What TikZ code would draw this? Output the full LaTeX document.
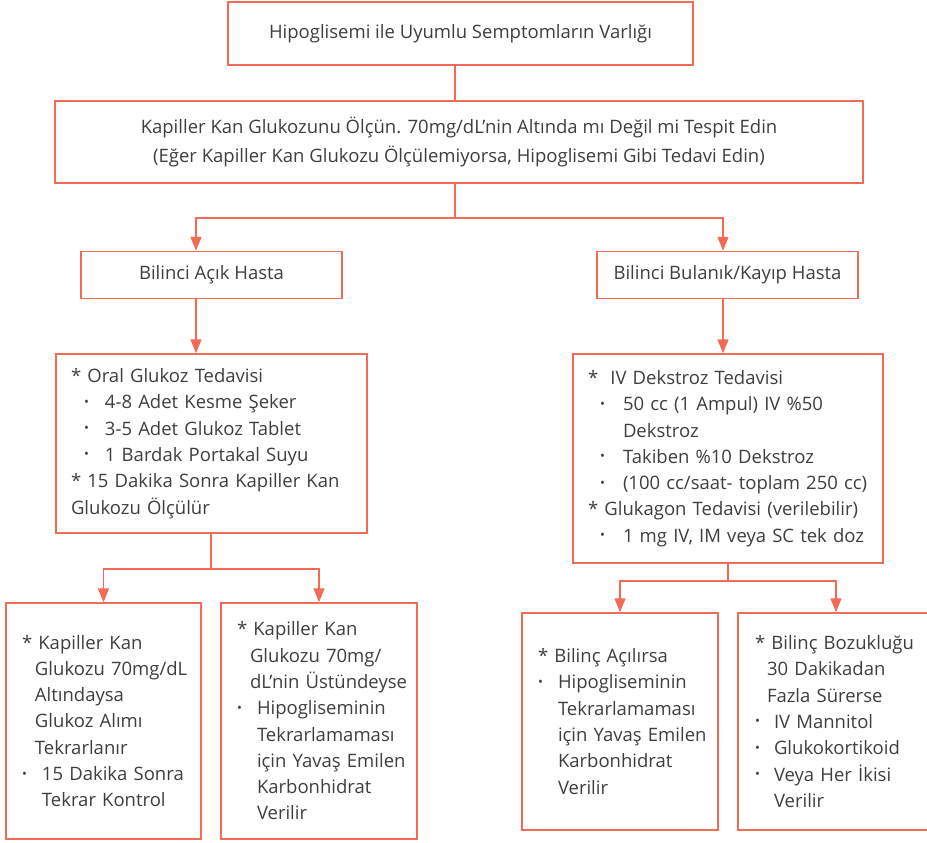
\documentclass[tikz,border=0pt]{standalone}
\usepackage{fontspec}
\setmainfont{Open Sans}
\usetikzlibrary{arrows.meta}

\definecolor{coral}{RGB}{241,107,85}
\definecolor{txtgray}{RGB}{62,62,62}

% bullet with its own indent and width
\newcommand{\blt}[2]{\hspace*{#1}\makebox[#2][l]{\raisebox{2.5pt}{\fontsize{13}{13}\selectfont\textbullet}}}
% left padding of a list box
\newcommand{\lpad}[2]{\leftskip=#1\relax #2\par}

\tikzset{
    box/.style={draw=coral,line width=1.5pt,text=txtgray,
        font=\fontsize{18.5}{26.3}\selectfont,inner ysep=0pt},
    listbox/.style={box,align=left,inner xsep=2pt},
    link/.style={draw=coral,line width=1.5pt},
    arr/.style={link,-{Triangle[length=14pt,width=11pt]}}
}

\begin{document}
\begin{tikzpicture}[x=1pt,y=-1pt]
    \useasboundingbox (0,0) rectangle (927,843);

    % top two boxes
    \node[box,minimum width=465,minimum height=63] (sympt) at (460.5,33.5)
        {Hipoglisemi ile Uyumlu Semptomların Varlığı};
    \node[box,align=center,minimum width=808,minimum height=82] (measure) at (459,142)
        {Kapiller Kan Glukozunu Ölçün. 70mg/dL’nin Altında mı Değil mi Tespit Edin\\[3pt]
         (Eğer Kapiller Kan Glukozu Ölçülemiyorsa, Hipoglisemi Gibi Tedavi Edin)};

    % patient state
    \node[box,minimum width=261,minimum height=47] (open) at (211.5,275) {Bilinci Açık Hasta};
    \node[box,minimum width=261,minimum height=47] (clouded) at (727.5,275) {Bilinci Bulanık/Kayıp Hasta};

    % treatment boxes
    \node[listbox,text width=307pt,minimum height=179] (oral) at (211.5,443.5)
        {\lpad{13pt}{* Oral Glukoz Tedavisi\\
         \blt{13pt}{21pt}4-8 Adet Kesme Şeker\\
         \blt{13pt}{21pt}3-5 Adet Glukoz Tablet\\
         \blt{13pt}{21pt}1 Bardak Portakal Suyu\\{}%
         * 15 Dakika Sonra Kapiller Kan\\
         Glukozu Ölçülür}};
    \node[listbox,text width=306pt,minimum height=209] (iv) at (728,458.5)
        {\lpad{13pt}{*\hspace{6pt} IV Dekstroz Tedavisi\\
         \blt{12pt}{23pt}50 cc (1 Ampul) IV \%50\\
         \hspace*{35pt}Dekstroz\\
         \blt{12pt}{23pt}Takiben \%10 Dekstroz\\
         \blt{12pt}{23pt}(100 cc/saat- toplam 250 cc)\\{}%
         * Glukagon Tedavisi (verilebilir)\\
         \blt{12pt}{23pt}1 mg IV, IM veya SC tek doz}};

    % outcome boxes
    \node[listbox,text width=191pt,minimum height=236] (below) at (103.5,721)
        {\lpad{14pt}{* Kapiller Kan\\
         \hspace*{13pt}Glukozu 70mg/dL\\
         \hspace*{13pt}Altındaysa\\
         \hspace*{13pt}Glukoz Alımı\\
         \hspace*{13pt}Tekrarlanır\\
         \blt{0pt}{20pt}15 Dakika Sonra\\
         \hspace*{20pt}Tekrar Kontrol}};
    \node[listbox,text width=192pt,minimum height=236] (above) at (319,721)
        {\lpad{14pt}{* Kapiller Kan\\
         \hspace*{13pt}Glukozu 70mg/\\
         \hspace*{13pt}dL’nin Üstündeyse\\
         \blt{0pt}{20pt}Hipogliseminin\\
         \hspace*{20pt}Tekrarlamaması\\
         \hspace*{20pt}için Yavaş Emilen\\
         \hspace*{20pt}Karbonhidrat\\
         \hspace*{20pt}Verilir}};
    \node[listbox,text width=192pt,minimum height=217] (wakes) at (620,721.5)
        {\lpad{14pt}{* Bilinç Açılırsa\\
         \blt{0pt}{20pt}Hipogliseminin\\
         \hspace*{20pt}Tekrarlamaması\\
         \hspace*{20pt}için Yavaş Emilen\\
         \hspace*{20pt}Karbonhidrat\\
         \hspace*{20pt}Verilir}};
    \node[listbox,text width=200pt,minimum height=217] (lasts) at (840,721.5)
        {\lpad{15pt}{* Bilinç Bozukluğu\\
         \hspace*{12pt}30 Dakikadan\\
         \hspace*{12pt}Fazla Sürerse\\
         \blt{0pt}{19pt}IV Mannitol\\
         \blt{0pt}{19pt}Glukokortikoid\\
         \blt{0pt}{19pt}Veya Her İkisi\\
         \hspace*{19pt}Verilir}};

    % columns and split points
    \coordinate (colL) at (196,0);
    \coordinate (colR) at (723,0);
    \coordinate (split) at (455,218);
    \coordinate (splitL) at (211,569);
    \coordinate (splitR) at (728,581);

    \draw[link] (sympt.south -| split) -- (measure.north -| split);
    \draw[link] (measure.south -| split) -- (split);
    \draw[arr] (split) -| (open.north -| colL);
    \draw[arr] (split) -| (clouded.north -| colR);
    \draw[arr] (open.south -| colL) -- (oral.north -| colL);
    \draw[arr] (clouded.south -| colR) -- (iv.north -| colR);

    \draw[link] (oral.south -| splitL) -- (splitL);
    \draw[arr] (splitL) -| (below.north);
    \draw[arr] (splitL) -| (above.north);
    \draw[link] (iv.south) -- (splitR);
    \draw[arr] (splitR) -| (wakes.north);
    \draw[arr] (splitR) -| ([xshift=-4pt]lasts.north);
\end{tikzpicture}
\end{document}
